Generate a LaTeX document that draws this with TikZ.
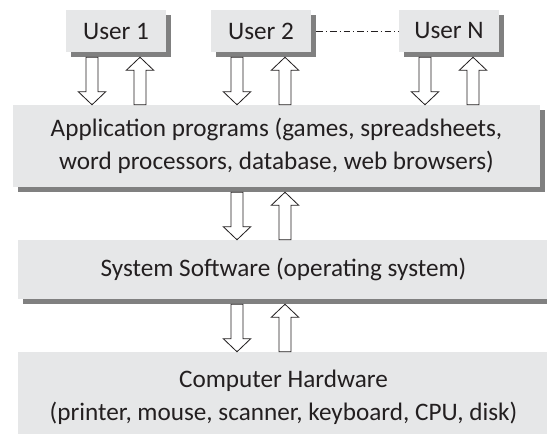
\documentclass[tikz,border=0pt]{standalone}
\usepackage{fontspec}
\setmainfont{Carlito}
\usetikzlibrary{calc,shadows}
\definecolor{boxgray}{HTML}{E6E7E8}
\definecolor{ink}{HTML}{231F20}

\begin{document}
\begin{tikzpicture}[font=\fontsize{21.5}{28.5}\selectfont,layer/.style={fill=boxgray,text=ink,align=center,drop shadow={shadow xshift=0.15cm,shadow yshift=-0.15cm,fill=black!50,opacity=1}},user/.style={layer,minimum width=3cm,minimum height=1.26cm},fat/.style={draw=ink,fill=white,line width=0.7pt,to path={let \p1=(\tikztostart), \p2=(\tikztotarget) in ({\x1-0.18cm},\y1) -- ({\x1-0.18cm},{\y2+#1}) -- ({\x1-0.41cm},{\y2+#1}) -- (\x1,\y2) -- ({\x1+0.41cm},{\y2+#1}) -- ({\x1+0.18cm},{\y2+#1}) -- ({\x1+0.18cm},\y1) -- cycle}},fatdown/.style={fat=0.39cm},fatup/.style={fat=-0.39cm},link/.style={draw=ink,line width=0.6pt,dash pattern=on 0.2cm off 0.09cm on 0.03cm off 0.09cm}]
  \useasboundingbox (0,0) rectangle (16.41,-13.02);
  \clip (0,0) rectangle (16.41,-13.02);
  \node[user] (u1) at (3.48,-0.93) {User 1};
  \node[user] (u2) at (7.83,-0.93) {User 2};
  \node[user] (uN) at (13.47,-0.93) {User N};
  \node[layer,minimum width=15.81cm,minimum height=2.46cm] (app) at (8.295,-4.38) {Application programs (games, spreadsheets,\\word processors, database, web browsers)};
  \node[layer,minimum width=15.93cm,minimum height=1.77cm] (sys) at (8.505,-8.085) {System Software (operating system)};
  \node[layer,minimum width=15.93cm,minimum height=2.7cm] (hw) at (8.505,-11.91) {Computer Hardware\\(printer, mouse, scanner, keyboard, CPU, disk)};
  \draw[link] ([xshift=0.15cm]u2.east) -- (uN.west);
  \foreach \u in {u1,u2,uN} {
    \draw[fatdown] ($(\u.south)+(-0.72,-0.15)$) to (app.north);
    \draw[fatup] ($(app.north -| \u)+(0.72,0)$) to ([yshift=-0.15cm]\u.south);
  }
  \draw[fatdown] ($(app.south -| u2)+(-0.72,-0.15)$) to (sys.north);
  \draw[fatup] ($(sys.north -| u2)+(0.72,0)$) to ($(app.south -| u2)+(0.72,-0.15)$);
  \draw[fatdown] ($(sys.south -| u2)+(-0.72,-0.15)$) to (hw.north);
  \draw[fatup] ($(hw.north -| u2)+(0.72,0)$) to ($(sys.south -| u2)+(0.72,-0.15)$);
\end{tikzpicture}
\end{document}
